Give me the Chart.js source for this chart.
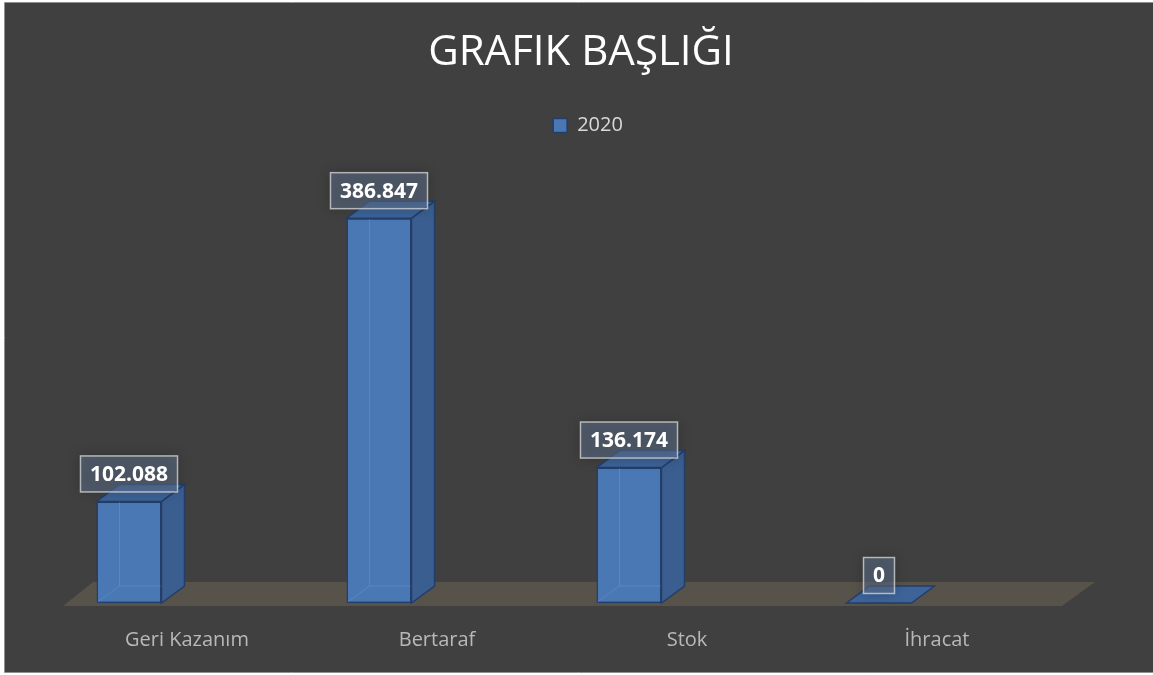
<!DOCTYPE html>
<html>
<head>
<meta charset="utf-8">
<script src="https://cdn.jsdelivr.net/npm/chart.js@4/dist/chart.umd.min.js"></script>
<style>
  html, body { margin: 0; padding: 0; background: #ffffff; }
  #wrap { width: 1153px; height: 675px; position: relative; }
</style>
</head>
<body>
<div id="wrap"><canvas id="c" width="1153" height="675"></canvas></div>
<script>
const categories = ['Geri Kazanım', 'Bertaraf', 'Stok', 'İhracat'];
const seriesName = '2020';
const values = [102.088, 386.847, 136.174, 0];
const valueLabels = ['102.088', '386.847', '136.174', '0'];
const chartTitle = 'GRAFIK BAŞLIĞI';

const FONT = "'Open Sans', 'Noto Sans', sans-serif";
const DEPTH_X = 23, DEPTH_Y = -17;

const framePlugin = {
  id: 'frame',
  afterLayout(chart) {
    // center title and legend on the whole frame rather than the plot area
    const tb = chart.titleBlock;
    if (tb) { tb.left += 77; tb.right += 77; }
    const lg = chart.legend;
    if (lg) { lg.left += 84; lg.right += 84; }
  },
  beforeDraw(chart) {
    const ctx = chart.ctx;
    ctx.save();
    ctx.fillStyle = '#ffffff';
    ctx.fillRect(0, 0, chart.width, chart.height);
    ctx.fillStyle = '#404040';
    ctx.fillRect(5, 3, chart.width - 5, 669);
    ctx.strokeStyle = '#8f8f8f';
    ctx.lineWidth = 1;
    ctx.beginPath();
    ctx.moveTo(4.5, 2.5); ctx.lineTo(chart.width, 2.5);
    ctx.moveTo(4.5, 2.5); ctx.lineTo(4.5, 672.5);
    ctx.lineTo(chart.width, 672.5);
    ctx.stroke();
    ctx.restore();
  },
  beforeDatasetsDraw(chart) {
    const {ctx, chartArea} = chart;
    const y0 = chart.scales.y.getPixelForValue(0);
    ctx.save();
    ctx.fillStyle = '#57534a';
    ctx.beginPath();
    ctx.moveTo(chartArea.left + 59, y0 + 3);
    ctx.lineTo(chartArea.right + 58, y0 + 3);
    ctx.lineTo(chartArea.right + 91, y0 - 21);
    ctx.lineTo(chartArea.left + 89, y0 - 21);
    ctx.closePath();
    ctx.fill();
    ctx.restore();
  },
  afterDatasetsDraw(chart) {
    const ctx = chart.ctx;
    const meta = chart.getDatasetMeta(0);
    ctx.save();
    meta.data.forEach((bar, i) => {
      const {x, y, base, width} = bar.getProps(['x', 'y', 'base', 'width'], true);
      const l = x - width / 2, r = x + width / 2;
      if (base - y > 2) {
        // faint back edges seen through the front face
        ctx.strokeStyle = 'rgba(120,160,210,0.35)';
        ctx.lineWidth = 1;
        ctx.beginPath();
        ctx.moveTo(l + DEPTH_X, y + DEPTH_Y + 1);
        ctx.lineTo(l + DEPTH_X, base + DEPTH_Y);
        ctx.lineTo(r, base + DEPTH_Y);
        ctx.moveTo(l + DEPTH_X, base + DEPTH_Y);
        ctx.lineTo(l + 1, base - 1);
        ctx.stroke();
        // side face
        ctx.fillStyle = '#3b5e90';
        ctx.strokeStyle = '#233e68';
        ctx.lineWidth = 1.5;
        ctx.beginPath();
        ctx.moveTo(r, y);
        ctx.lineTo(r + DEPTH_X, y + DEPTH_Y);
        ctx.lineTo(r + DEPTH_X, base + DEPTH_Y);
        ctx.lineTo(r, base);
        ctx.closePath();
        ctx.fill();
        ctx.stroke();
      }
      // top face
      ctx.fillStyle = '#3d6398';
      ctx.strokeStyle = '#233e68';
      ctx.lineWidth = 1.5;
      ctx.beginPath();
      ctx.moveTo(l, y);
      ctx.lineTo(r, y);
      ctx.lineTo(r + DEPTH_X, y + DEPTH_Y);
      ctx.lineTo(l + DEPTH_X, y + DEPTH_Y);
      ctx.closePath();
      ctx.fill();
      ctx.stroke();
    });
    // data labels
    ctx.font = "bold 21px " + FONT;
    ctx.textAlign = 'center';
    ctx.textBaseline = 'middle';
    meta.data.forEach((bar, i) => {
      const {x, y} = bar.getProps(['x', 'y'], true);
      const txt = valueLabels[i];
      const w = ctx.measureText(txt).width + 20;
      const h = 37;
      const bx = x - w / 2;
      const by = y - 9 - h;
      ctx.save();
      ctx.shadowColor = 'rgba(0,0,0,0.45)';
      ctx.shadowBlur = 12;
      ctx.fillStyle = 'rgba(100,118,145,0.5)';
      ctx.fillRect(bx, by, w, h);
      ctx.restore();
      ctx.strokeStyle = 'rgba(215,215,215,0.75)';
      ctx.lineWidth = 1.5;
      ctx.strokeRect(bx + 0.5, by + 0.5, w - 1, h - 1);
      ctx.fillStyle = '#ffffff';
      ctx.fillText(txt, x, by + h / 2 + 1);
    });
    ctx.restore();
  }
};

new Chart(document.getElementById('c'), {
  type: 'bar',
  data: {
    labels: categories,
    datasets: [{
      label: seriesName,
      data: values,
      backgroundColor: '#4a78b5',
      borderColor: '#233e68',
      borderWidth: 1.5,
      borderSkipped: false,
      categoryPercentage: 1.0,
      barPercentage: 0.26
    }]
  },
  options: {
    responsive: false,
    animation: false,
    devicePixelRatio: 1,
    layout: { padding: { left: 4, right: 149, top: 0, bottom: 0 } },
    plugins: {
      title: {
        display: true,
        text: chartTitle,
        color: '#ffffff',
        font: { family: FONT, size: 42, weight: 'normal' },
        padding: { top: 28, bottom: 9 }
      },
      legend: {
        display: true,
        labels: {
          color: '#d9d9d9',
          font: { family: FONT, size: 20 },
          boxWidth: 14,
          boxHeight: 14,
          padding: 28,
          generateLabels(chart) {
            return [{
              text: seriesName,
              fillStyle: '#4a78b5',
              strokeStyle: '#233e68',
              lineWidth: 1.5,
              fontColor: '#d9d9d9',
              datasetIndex: 0
            }];
          }
        }
      },
      tooltip: { enabled: false }
    },
    scales: {
      x: {
        grid: { display: false, drawTicks: false },
        border: { display: false },
        afterFit(axis) { axis.height = 72; },
        ticks: {
          color: '#b8b8b8',
          font: { family: FONT, size: 20 },
          padding: 25,
          labelOffset: 58,
          maxRotation: 0
        }
      },
      y: {
        display: false,
        min: 0,
        max: 460
      }
    }
  },
  plugins: [framePlugin]
});
</script>
</body>
</html>
